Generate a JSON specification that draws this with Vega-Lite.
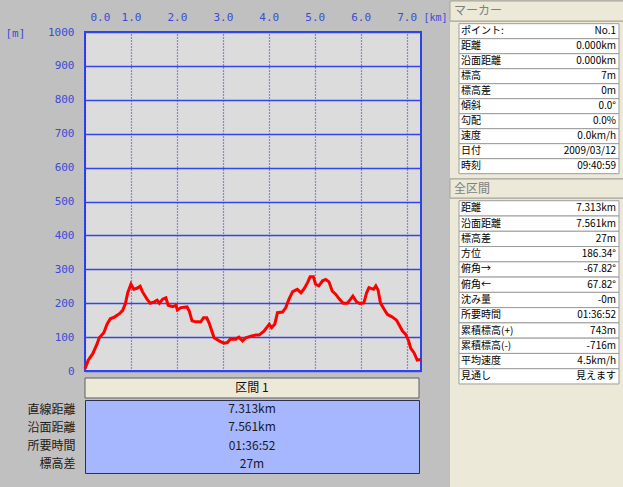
{
  "$schema": "https://vega.github.io/schema/vega-lite/v6.json",
  "background": "#C0C0C0",
  "padding": {"left": 4, "top": 0, "right": 0, "bottom": 0},
  "config": {
    "view": {"stroke": null},
    "font": "Noto Sans CJK JP",
    "text": {"font": "Noto Sans CJK JP", "fontSize": 10, "color": "#111111"}
  },
  "spacing": 0,
  "hconcat": [
    {
      "spacing": 8,
      "vconcat": [
        {
          "width": 1,
          "height": 1,
          "data": {"values": []},
          "mark": {"type": "point", "opacity": 0}
        },
        {
          "spacing": 0,
          "vconcat": [
            {
              "width": 336,
              "height": 339,
              "view": {"fill": "#DCDCDC", "stroke": "#2F40EE", "strokeWidth": 2},
              "data": {
                "values": [
                  {"km": 0, "elev": 7}, {"km": 0.07, "elev": 32}, {"km": 0.17, "elev": 51}, {"km": 0.26, "elev": 79},
                  {"km": 0.31, "elev": 98}, {"km": 0.41, "elev": 113}, {"km": 0.48, "elev": 138}, {"km": 0.55, "elev": 154},
                  {"km": 0.64, "elev": 159}, {"km": 0.75, "elev": 169}, {"km": 0.82, "elev": 179}, {"km": 0.88, "elev": 199},
                  {"km": 0.93, "elev": 231}, {"km": 1.0, "elev": 256}, {"km": 1.06, "elev": 241}, {"km": 1.13, "elev": 244},
                  {"km": 1.2, "elev": 250}, {"km": 1.25, "elev": 234}, {"km": 1.35, "elev": 212}, {"km": 1.42, "elev": 200},
                  {"km": 1.51, "elev": 204}, {"km": 1.57, "elev": 209}, {"km": 1.62, "elev": 200}, {"km": 1.69, "elev": 212},
                  {"km": 1.76, "elev": 216}, {"km": 1.81, "elev": 194}, {"km": 1.91, "elev": 190}, {"km": 1.98, "elev": 194},
                  {"km": 2.01, "elev": 180}, {"km": 2.09, "elev": 187}, {"km": 2.22, "elev": 189}, {"km": 2.27, "elev": 177},
                  {"km": 2.33, "elev": 148}, {"km": 2.41, "elev": 145}, {"km": 2.52, "elev": 145}, {"km": 2.58, "elev": 157},
                  {"km": 2.65, "elev": 157}, {"km": 2.7, "elev": 142}, {"km": 2.76, "elev": 118}, {"km": 2.81, "elev": 98},
                  {"km": 2.92, "elev": 89}, {"km": 3.02, "elev": 82}, {"km": 3.1, "elev": 84}, {"km": 3.16, "elev": 94},
                  {"km": 3.28, "elev": 94}, {"km": 3.35, "elev": 100}, {"km": 3.43, "elev": 89}, {"km": 3.5, "elev": 98},
                  {"km": 3.61, "elev": 103}, {"km": 3.72, "elev": 106}, {"km": 3.79, "elev": 106}, {"km": 3.9, "elev": 118},
                  {"km": 4.01, "elev": 138}, {"km": 4.06, "elev": 128}, {"km": 4.13, "elev": 138}, {"km": 4.19, "elev": 172},
                  {"km": 4.3, "elev": 174}, {"km": 4.37, "elev": 187}, {"km": 4.44, "elev": 212}, {"km": 4.52, "elev": 234},
                  {"km": 4.62, "elev": 241}, {"km": 4.7, "elev": 231}, {"km": 4.77, "elev": 243}, {"km": 4.84, "elev": 260},
                  {"km": 4.9, "elev": 278}, {"km": 4.97, "elev": 278}, {"km": 5.02, "elev": 256}, {"km": 5.09, "elev": 251},
                  {"km": 5.17, "elev": 266}, {"km": 5.24, "elev": 270}, {"km": 5.31, "elev": 263}, {"km": 5.38, "elev": 236},
                  {"km": 5.46, "elev": 226}, {"km": 5.53, "elev": 213}, {"km": 5.62, "elev": 200}, {"km": 5.71, "elev": 200},
                  {"km": 5.78, "elev": 212}, {"km": 5.83, "elev": 221}, {"km": 5.91, "elev": 204}, {"km": 5.98, "elev": 199},
                  {"km": 6.07, "elev": 201}, {"km": 6.13, "elev": 231}, {"km": 6.18, "elev": 246}, {"km": 6.28, "elev": 241},
                  {"km": 6.33, "elev": 251}, {"km": 6.38, "elev": 238}, {"km": 6.43, "elev": 201}, {"km": 6.51, "elev": 182},
                  {"km": 6.58, "elev": 167}, {"km": 6.69, "elev": 159}, {"km": 6.78, "elev": 150}, {"km": 6.85, "elev": 133},
                  {"km": 6.91, "elev": 118}, {"km": 6.98, "elev": 108}, {"km": 7.04, "elev": 90}, {"km": 7.09, "elev": 67},
                  {"km": 7.16, "elev": 54}, {"km": 7.23, "elev": 32}, {"km": 7.3, "elev": 34}
                ]
              },
              "mark": {"type": "line", "color": "#FF0000", "strokeWidth": 3},
              "encoding": {
                "x": {
                  "field": "km",
                  "type": "quantitative",
                  "scale": {"domain": [0, 7.313], "nice": false, "zero": false},
                  "axis": {
                    "orient": "top",
                    "values": [0, 1, 2, 3, 4, 5, 6, 7],
                    "format": ".1f",
                    "title": "[km]",
                    "titleX": 338,
                    "titleY": -15,
                    "titleAlign": "left",
                    "titleBaseline": "middle",
                    "titleAngle": 0,
                    "titleFont": "DejaVu Sans Mono",
                    "titleFontSize": 10,
                    "titleFontWeight": "normal",
                    "titleColor": "#3B4BD6",
                    "labelFont": "DejaVu Sans Mono",
                    "labelFontSize": 11,
                    "labelColor": "#3B4BD6",
                    "labelPadding": 10,
                    "labelOverlap": false,
                    "labelFlush": true,
                    "labelFlushOffset": -5,
                    "ticks": false,
                    "tickSize": 0,
                    "domain": false,
                    "grid": true,
                    "gridColor": "#1F33FF",
                    "gridDash": [1, 2],
                    "gridWidth": 1.2
                  }
                },
                "y": {
                  "field": "elev",
                  "type": "quantitative",
                  "scale": {"domain": [0, 1000], "nice": false},
                  "axis": {
                    "values": [0, 100, 200, 300, 400, 500, 600, 700, 800, 900, 1000],
                    "format": "d",
                    "title": "[m]",
                    "titleX": -80,
                    "titleY": 1,
                    "titleAlign": "left",
                    "titleBaseline": "middle",
                    "titleAngle": 0,
                    "titleFont": "DejaVu Sans Mono",
                    "titleFontSize": 11,
                    "titleFontWeight": "normal",
                    "titleColor": "#3B4BD6",
                    "labelFont": "DejaVu Sans Mono",
                    "labelFontSize": 11,
                    "labelColor": "#3B4BD6",
                    "labelPadding": 11,
                    "labelOverlap": false,
                    "ticks": false,
                    "tickSize": 0,
                    "domain": false,
                    "grid": true,
                    "gridColor": "#3346E8",
                    "gridWidth": 1.5
                  }
                }
              }
            },
            {
              "width": 334,
              "height": 20,
              "data": {"values": [{"t": "区間 1"}]},
              "layer": [
                {
                  "mark": {"type": "rect", "fill": "#ECE9D8", "stroke": "#5E5E5E", "strokeWidth": 1},
                  "encoding": {}
                },
                {
                  "mark": {"type": "text", "fontSize": 12, "color": "#111111"},
                  "encoding": {"text": {"field": "t"}}
                }
              ]
            },
            {
              "width": 334,
              "height": 73,
              "view": {"fill": "#A6B6FF", "stroke": "#2E2E4E", "strokeWidth": 1},
              "data": {
                "values": [
                  {"k": "直線距離", "v": "7.313km"},
                  {"k": "沿面距離", "v": "7.561km"},
                  {"k": "所要時間", "v": "01:36:52"},
                  {"k": "標高差", "v": "27m"}
                ]
              },
              "mark": {"type": "text", "fontSize": 12, "color": "#1A1A1A"},
              "encoding": {
                "y": {
                  "field": "k",
                  "type": "nominal",
                  "sort": null,
                  "axis": {
                    "title": null,
                    "domain": false,
                    "ticks": false,
                    "tickSize": 0,
                    "grid": false,
                    "labelPadding": 10,
                    "labelFont": "Noto Sans CJK JP",
                    "labelFontSize": 12,
                    "labelColor": "#1A1A1A"
                  }
                },
                "text": {"field": "v"}
              }
            }
          ]
        }
      ]
    },
    {
      "spacing": 0,
      "vconcat": [
        {
          "width": 176,
          "height": 20,
          "data": {"values": [{"t": "マーカー", "c": "a"}]},
          "layer": [
            {
              "mark": {"type": "rect", "fill": "#ECE9D8", "stroke": "#A9A592", "strokeWidth": 1},
              "encoding": {}
            },
            {
              "mark": {"type": "text", "align": "left", "dx": 4, "fontSize": 12, "color": "#808080"},
              "encoding": {
                "x": {"field": "c", "type": "nominal", "axis": null, "bandPosition": 0, "scale": {"type": "band", "paddingInner": 0, "paddingOuter": 0}},
                "text": {"field": "t"}
              }
            }
          ]
        },
        {
          "width": 176,
          "height": 156,
          "view": {"fill": "#ECE9D8"},
          "data": {
            "values": [
              {"tb": "m", "k": "ポイント:", "v": "No.1"},
              {"tb": "m", "k": "距離", "v": "0.000km"},
              {"tb": "m", "k": "沿面距離", "v": "0.000km"},
              {"tb": "m", "k": "標高", "v": "7m"},
              {"tb": "m", "k": "標高差", "v": "0m"},
              {"tb": "m", "k": "傾斜", "v": "0.0°"},
              {"tb": "m", "k": "勾配", "v": "0.0%"},
              {"tb": "m", "k": "速度", "v": "0.0km/h"},
              {"tb": "m", "k": "日付", "v": "2009/03/12"},
              {"tb": "m", "k": "時刻", "v": "09:40:59"}
            ]
          },
          "encoding": {
            "y": {"field": "k", "type": "nominal", "sort": null, "axis": null, "scale": {"type": "band", "paddingInner": 0, "paddingOuter": 0.2, "align": 0.28}}
          },
          "layer": [
            {
              "mark": {"type": "rect", "fill": "#FFFFFF", "stroke": "#9C9C9C", "strokeWidth": 1},
              "encoding": {
                "x": {"field": "tb", "type": "nominal", "axis": null, "scale": {"type": "band", "paddingInner": 0, "paddingOuter": 0.05, "align": 0.5625}}
              }
            },
            {
              "mark": {"type": "text", "align": "left", "dx": 2, "fontSize": 10, "color": "#000000"},
              "encoding": {
                "x": {"field": "tb", "type": "nominal", "axis": null, "bandPosition": 0, "scale": {"type": "band", "paddingInner": 0, "paddingOuter": 0.05, "align": 0.5625}},
                "text": {"field": "k"}
              }
            },
            {
              "mark": {"type": "text", "align": "right", "dx": -3, "fontSize": 10, "color": "#000000"},
              "encoding": {
                "x": {"field": "tb", "type": "nominal", "axis": null, "bandPosition": 1, "scale": {"type": "band", "paddingInner": 0, "paddingOuter": 0.05, "align": 0.5625}},
                "text": {"field": "v"}
              }
            }
          ]
        },
        {
          "width": 176,
          "height": 19,
          "data": {"values": [{"t": "全区間", "c": "a"}]},
          "layer": [
            {
              "mark": {"type": "rect", "fill": "#ECE9D8", "stroke": "#A9A592", "strokeWidth": 1},
              "encoding": {}
            },
            {
              "mark": {"type": "text", "align": "left", "dx": 4, "fontSize": 12, "color": "#808080"},
              "encoding": {
                "x": {"field": "c", "type": "nominal", "axis": null, "bandPosition": 0, "scale": {"type": "band", "paddingInner": 0, "paddingOuter": 0}},
                "text": {"field": "t"}
              }
            }
          ]
        },
        {
          "width": 176,
          "height": 186,
          "view": {"fill": "#ECE9D8"},
          "data": {
            "values": [
              {"tb": "z", "k": "距離", "v": "7.313km"},
              {"tb": "z", "k": "沿面距離", "v": "7.561km"},
              {"tb": "z", "k": "標高差", "v": "27m"},
              {"tb": "z", "k": "方位", "v": "186.34°"},
              {"tb": "z", "k": "俯角→", "v": "-67.82°"},
              {"tb": "z", "k": "俯角←", "v": "67.82°"},
              {"tb": "z", "k": "沈み量", "v": "-0m"},
              {"tb": "z", "k": "所要時間", "v": "01:36:52"},
              {"tb": "z", "k": "累積標高(+)", "v": "743m"},
              {"tb": "z", "k": "累積標高(-)", "v": "-716m"},
              {"tb": "z", "k": "平均速度", "v": "4.5km/h"},
              {"tb": "z", "k": "見通し", "v": "見えます"}
            ]
          },
          "encoding": {
            "y": {"field": "k", "type": "nominal", "sort": null, "axis": null, "scale": {"type": "band", "paddingInner": 0, "paddingOuter": 0.09, "align": 0.63}}
          },
          "layer": [
            {
              "mark": {"type": "rect", "fill": "#FFFFFF", "stroke": "#9C9C9C", "strokeWidth": 1},
              "encoding": {
                "x": {"field": "tb", "type": "nominal", "axis": null, "scale": {"type": "band", "paddingInner": 0, "paddingOuter": 0.05, "align": 0.5625}}
              }
            },
            {
              "mark": {"type": "text", "align": "left", "dx": 2, "fontSize": 10, "color": "#000000"},
              "encoding": {
                "x": {"field": "tb", "type": "nominal", "axis": null, "bandPosition": 0, "scale": {"type": "band", "paddingInner": 0, "paddingOuter": 0.05, "align": 0.5625}},
                "text": {"field": "k"}
              }
            },
            {
              "mark": {"type": "text", "align": "right", "dx": -3, "fontSize": 10, "color": "#000000"},
              "encoding": {
                "x": {"field": "tb", "type": "nominal", "axis": null, "bandPosition": 1, "scale": {"type": "band", "paddingInner": 0, "paddingOuter": 0.05, "align": 0.5625}},
                "text": {"field": "v"}
              }
            }
          ]
        },
        {
          "width": 176,
          "height": 106,
          "view": {"fill": "#ECE9D8"},
          "data": {"values": []},
          "mark": {"type": "point", "opacity": 0}
        }
      ]
    }
  ]
}
